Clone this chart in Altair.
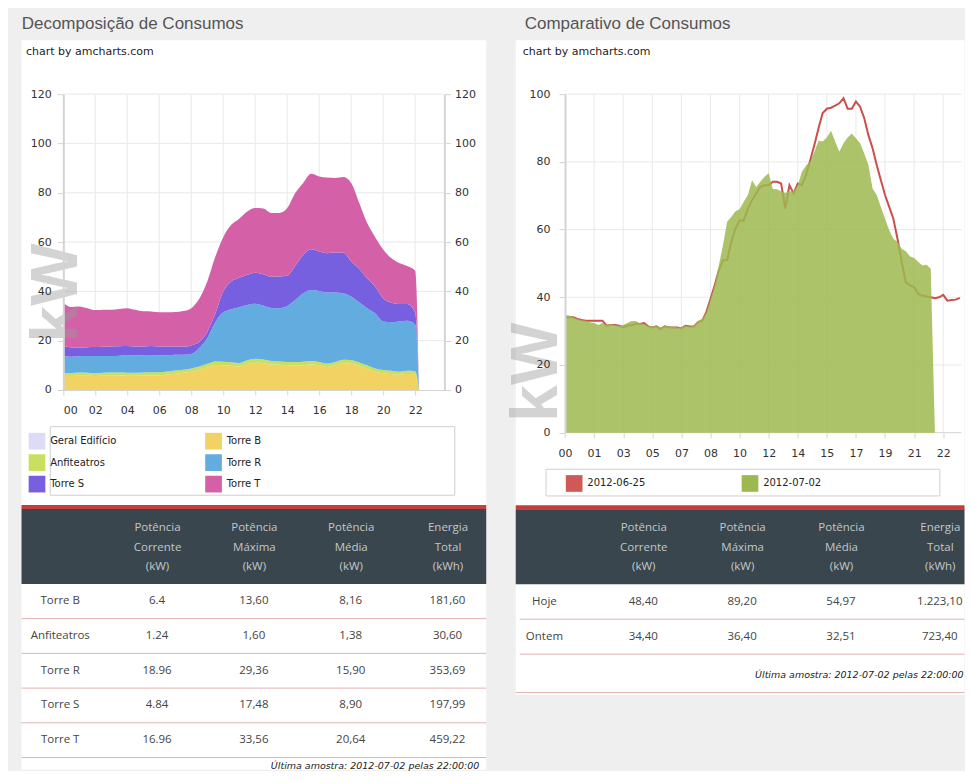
import altair as alt
import pandas as pd

# ---------------- Left panel: "Decomposição de Consumos" (stacked areas, kW) ----------------
series_left = ["Geral Edifício", "Torre B", "Anfiteatros", "Torre R", "Torre S", "Torre T"]
colors_left = ["#dcdcf6", "#f1d263", "#c8df60", "#62ace0", "#7660e0", "#d461a8"]

hours_left = [0.0, 0.5, 1.0, 1.5, 2.0, 2.5, 3.0, 3.5, 4.0, 4.5, 5.0, 5.5, 6.0, 6.5, 7.0, 7.5,
              8.0, 8.5, 9.0, 9.5, 10.0, 10.5, 11.0, 11.5, 12.0, 12.5, 13.0, 13.5, 14.0, 14.5,
              15.0, 15.5, 16.0, 16.5, 17.0, 17.5, 18.0, 18.5, 19.0, 19.5, 20.0, 20.5, 21.0,
              21.5, 22.0, 22.25]
torre_b = [5.8, 5.7, 5.8, 5.8, 5.7, 5.8, 5.8, 5.9, 5.8, 5.8, 5.9, 5.9, 6.0, 6.3, 6.6, 7.0,
           7.4, 8.1, 9.1, 10.1, 10.0, 9.8, 9.5, 10.5, 11.1, 10.9, 10.3, 10.2, 10.0, 10.0,
           10.0, 10.3, 10.0, 9.3, 10.0, 10.8, 10.6, 9.8, 8.6, 7.4, 6.8, 6.5, 6.2,
           6.5, 6.4, 0.0]
anfiteatros = [1.2, 1.2, 1.3, 1.2, 1.2, 1.2, 1.3, 1.2, 1.2, 1.2, 1.2, 1.3, 1.2, 1.2, 1.3, 1.2,
               1.3, 1.4, 1.5, 1.5, 1.5, 1.5, 1.5, 1.6, 1.6, 1.5, 1.5, 1.4, 1.4, 1.4,
               1.5, 1.5, 1.4, 1.4, 1.4, 1.5, 1.5, 1.4, 1.4, 1.3, 1.3, 1.3, 1.2,
               1.3, 1.24, 0.0]
torre_r = [6.8, 6.6, 6.6, 6.8, 6.9, 6.8, 6.7, 6.8, 7.0, 7.0, 7.0, 7.0, 6.8, 6.6, 6.4, 6.1,
           5.9, 7.5, 10.4, 15.9, 20.0, 21.5, 22.6, 22.4, 22.3, 21.9, 21.5, 21.6, 22.7, 25.1,
           27.7, 28.8, 28.8, 28.8, 28.1, 26.9, 25.8, 24.4, 23.2, 22.4, 19.7, 19.7, 20.4,
           20.3, 18.96, 0.0]
torre_s = [4.1, 3.7, 3.4, 3.5, 3.6, 3.7, 3.8, 3.8, 3.8, 3.6, 3.5, 3.6, 3.6, 3.5, 3.3, 3.3,
           3.5, 2.6, 2.5, 3.5, 8.5, 11.2, 11.9, 12.2, 12.6, 12.7, 12.7, 12.8, 12.3, 13.9,
           15.6, 16.5, 16.0, 16.0, 16.3, 16.6, 14.2, 13.6, 12.1, 10.8, 9.4, 7.9, 7.1,
           6.8, 4.84, 0.0]
torre_t = [17.3, 16.5, 16.8, 15.9, 15.0, 15.0, 15.0, 15.2, 15.4, 14.9, 14.3, 14.0, 13.9, 13.9, 14.0, 14.4,
           15.1, 17.4, 20.5, 23.0, 22.0, 23.0, 24.0, 25.7, 26.2, 26.6, 25.8, 25.8, 27.4, 29.5,
           29.2, 30.6, 30.4, 30.7, 30.2, 30.6, 31.9, 26.8, 22.4, 20.1, 19.8, 18.1, 16.6,
           15.4, 16.96, 0.0]
xticks_left = [0, 2, 4, 6, 8, 10, 12, 14, 16, 18, 20, 22]
yticks_left = [0, 20, 40, 60, 80, 100, 120]

# ---------------- Right panel: "Comparativo de Consumos" (15-minute samples) ----------------
series_right = ["2012-06-25", "2012-07-02"]
colors_right = ["#cf5a55", "#9db84f"]
day_0625 = [33.8, 34.1, 34.1, 33.6, 33.3, 33.1, 33.1, 33.1, 33.1, 33.1,
            31.6, 31.8, 31.8, 31.6, 31.1, 31.6, 31.8, 32.1, 32.1, 32.4,
            31.4, 31.1, 31.4, 30.6, 31.4, 31.1, 31.1, 31.1, 30.8, 31.6,
            31.4, 31.4, 32.6, 33.1, 35.6, 39.5, 43.5, 47.9, 50.9, 50.9,
            56.3, 60.3, 62.7, 62.7, 66.2, 68.7, 70.7, 72.6, 73.1, 73.1,
            74.1, 74.1, 73.6, 66.2, 73.1, 70.7, 73.6, 73.1, 76.1, 80.5,
            85.0, 89.9, 94.4, 95.7, 96.0, 96.6, 97.3, 98.8, 95.7, 95.7,
            97.8, 96.3, 92.9, 87.9, 84.0, 79.1, 74.6, 70.2, 66.7, 63.2,
            57.3, 50.4, 44.5, 43.5, 43.0, 41.0, 40.5, 40.2, 40.0, 39.7,
            40.0, 40.7, 39.0, 39.2, 39.3, 39.8]
day_0702 = [34.8, 34.6, 34.1, 33.6, 33.3, 33.1, 32.6, 32.4, 31.8, 32.4,
            31.8, 32.1, 31.8, 31.6, 31.8, 32.4, 33.0, 33.0, 32.4, 32.1,
            31.6, 31.4, 31.6, 31.1, 31.6, 31.4, 31.4, 31.1, 31.1, 31.6,
            31.4, 31.6, 33.1, 33.6, 35.6, 39.5, 43.5, 49.4, 55.3, 62.3,
            63.7, 65.4, 66.0, 68.2, 70.2, 74.6, 72.6, 74.1, 75.6, 76.6,
            72.0, 71.9, 71.3, 70.9, 71.3, 71.3, 73.1, 77.1, 78.9, 80.2,
            83.0, 86.2, 86.0, 87.2, 89.2, 86.0, 83.0, 85.5, 87.2, 88.4,
            87.0, 85.5, 82.5, 79.1, 72.1, 70.2, 66.7, 63.2, 59.8, 57.3,
            56.3, 54.3, 53.6, 52.1, 51.6, 50.4, 49.4, 49.6, 48.4, 0.0]
quarter_hours = [q / 4 for q in range(96)]          # sample time stamps (hours)
xticks_right = [0, 1.75, 3.5, 5.25, 7, 8.75, 10.5, 12.25, 14, 15.75, 17.5, 19.25, 21, 22.75]
yticks_right = [0, 20, 40, 60, 80, 100]

# ---------------- Tables ----------------
table_cols = [" ", "Potência|Corrente|(kW)", "Potência|Máxima|(kW)", "Potência|Média|(kW)", "Energia|Total|(kWh)"]
rows_left = ["Torre B", "Anfiteatros", "Torre R", "Torre S", "Torre T"]
vals_left = [["6.4", "13,60", "8,16", "181,60"],
             ["1.24", "1,60", "1,38", "30,60"],
             ["18.96", "29,36", "15,90", "353,69"],
             ["4.84", "17,48", "8,90", "197,99"],
             ["16.96", "33,56", "20,64", "459,22"]]
rows_right = ["Hoje", "Ontem"]
vals_right = [["48,40", "89,20", "54,97", "1.223,10"],
              ["34,40", "36,40", "32,51", "723,40"]]
footnote = "Última amostra: 2012-07-02 pelas 22:00:00"

# ---------------- styling ----------------
GRID = "#e9e9e9"
AXIS = "#d4d4d4"
LBL = "#333333"
AXFONT = "DejaVu Sans"
one = pd.DataFrame({"d": [0]})


def deco_rect(x, x2, y, y2, **kw):
    return alt.Chart(one).mark_rect(**kw).encode(
        x=alt.value(x), x2=alt.value(x2), y=alt.value(y), y2=alt.value(y2))


def deco_rule(x, x2, y, **kw):
    return alt.Chart(one).mark_rule(**kw).encode(
        x=alt.value(x), x2=alt.value(x2), y=alt.value(y))


def deco_text(txt, x, y, **kw):
    return alt.Chart(pd.DataFrame({"t": [txt]})).mark_text(**kw).encode(
        x=alt.value(x), y=alt.value(y), text="t:N")


def legend(x, y, colpad):
    return alt.Legend(title=None, orient="none", legendX=x, legendY=y, columns=2,
                      direction="horizontal",
                      columnPadding=colpad, rowPadding=4.5, symbolType="square",
                      symbolSize=279, symbolStrokeWidth=0, symbolOpacity=1,
                      labelFont=AXFONT, labelFontSize=10, labelColor="#222222",
                      labelOffset=4.65, labelLimit=300, padding=0)


KW = dict(angle=270, font="Liberation Sans", fontSize=66, fontWeight="bold",
          color="#999999", opacity=0.42, align="center", baseline="middle")

# ---------------- left area chart ----------------
WL, HL = 381.3, 296
xs_l = alt.Scale(domain=[0, 23.83], nice=False, zero=False)
ys_l = alt.Scale(domain=[0, 120], nice=False)

recs = []
for k, (name, vals) in enumerate(zip(series_left[1:], [torre_b, anfiteatros, torre_r, torre_s, torre_t]), start=1):
    for h, v in zip(hours_left, vals):
        recs.append({"h": h, "v": v, "s": name, "k": k})
df_left = pd.DataFrame(recs)

vgrid_l = alt.Chart(pd.DataFrame({"g": xticks_left[1:]})).mark_rule(color=GRID).encode(
    x=alt.X("g:Q", scale=xs_l, axis=None))
hgrid_l = alt.Chart(pd.DataFrame({"g": yticks_left[1:]})).mark_rule(color=GRID).encode(
    y=alt.Y("g:Q", scale=ys_l, axis=alt.Axis(
        orient="right", values=yticks_left, title=None, grid=False, domainColor=AXIS, domainWidth=2,
        tickColor=AXIS, tickSize=6, labelPadding=4, labelFont=AXFONT, labelFontSize=11,
        labelColor=LBL, zindex=1)))
areas_l = alt.Chart(df_left).mark_area(interpolate="monotone").encode(
    x=alt.X("h:Q", scale=xs_l, axis=alt.Axis(
        values=xticks_left, labelExpr="format(datum.value, '02d')", title=None, grid=False,
        domainColor=AXIS, tickColor=AXIS, tickSize=5, labelPadding=10, labelFont=AXFONT,
        labelFontSize=11, labelColor=LBL, zindex=1)),
    y=alt.Y("v:Q", stack="zero", scale=ys_l, axis=alt.Axis(
        orient="left", values=yticks_left, title=None, grid=False, domainColor=AXIS, domainWidth=2,
        tickColor=AXIS, tickSize=6, labelPadding=6, labelFont=AXFONT, labelFontSize=11,
        labelColor=LBL, zindex=1)),
    color=alt.Color("s:N", scale=alt.Scale(domain=series_left, range=colors_left),
                    legend=legend(7.0, 338.65, 88.65)),
    order=alt.Order("k:Q"))

area_left = alt.layer(
    deco_rect(-41.85, 423.15, -86, -54, opacity=0),                   # layout anchor
    deco_rect(-41.85, 423.15, -54, 676, color="white"),                # card
    deco_rect(-13.05, 391.65, 332.7, 401.3, fill="white", stroke="#cfcfcf", strokeWidth=1),
    vgrid_l, hgrid_l, areas_l,
    deco_text("kW", -5.85, 199, **KW),
    deco_text("Decomposição de Consumos", -41.65, -65, font="Liberation Sans", fontSize=17,
              color="#555555", align="left", baseline="alphabetic"),
    deco_text("chart by amcharts.com", -37.35, -42, font=AXFONT, fontSize=11, color="#222222",
              align="left", baseline="middle"),
).resolve_axis(x="independent", y="independent").properties(width=WL, height=HL)

# ---------------- right area chart ----------------
WR, HR = 442, 338.7
xs_r = alt.Scale(domain=[-2.724, 23.85], nice=False, zero=False)
ys_r = alt.Scale(domain=[0, 100], nice=False)

df_red = pd.DataFrame({"h": quarter_hours, "v": day_0625, "s": series_right[0]})
df_green = pd.DataFrame({"h": quarter_hours[:len(day_0702)], "v": day_0702, "s": series_right[1]})

vgrid_r = alt.Chart(pd.DataFrame({"g": xticks_right[1:]})).mark_rule(color=GRID).encode(
    x=alt.X("g:Q", scale=xs_r, axis=None))
hgrid_r = alt.Chart(pd.DataFrame({"g": yticks_right[1:]})).mark_rule(color=GRID).encode(
    y=alt.Y("g:Q", scale=ys_r, axis=None),
    x=alt.XDatum(0, type="quantitative", scale=xs_r, axis=None), x2=alt.X2Datum(23.85))
zero_r = alt.Chart(pd.DataFrame({"g": [0]})).mark_rule(color=AXIS).encode(
    y=alt.Y("g:Q", scale=ys_r, axis=None),
    x=alt.XDatum(0, type="quantitative", scale=xs_r, axis=None), x2=alt.X2Datum(23.85))
line_r = alt.Chart(df_red).mark_line(color="#c9504b", strokeWidth=2).encode(
    x=alt.X("h:Q", scale=xs_r, axis=None), y=alt.Y("v:Q", scale=ys_r, axis=None))
area_r = alt.Chart(df_green).mark_area(opacity=0.85).encode(
    x=alt.X("h:Q", scale=xs_r, axis=alt.Axis(
        values=xticks_right, labelExpr="format(floor(datum.value), '02d')", title=None, grid=False,
        domain=False, tickColor=AXIS, tickSize=5, labelPadding=10, labelFont=AXFONT,
        labelFontSize=11, labelColor=LBL, zindex=1)),
    y=alt.Y("v:Q", scale=ys_r, axis=alt.Axis(
        orient="left", offset=-45.3, values=yticks_right, title=None, grid=False,
        domainColor=AXIS, domainWidth=2, tickColor=AXIS, tickSize=6, labelPadding=9,
        labelFont=AXFONT, labelFontSize=11, labelColor=LBL, zindex=1)),
    color=alt.Color("s:N", scale=alt.Scale(domain=series_right, range=colors_right),
                    legend=legend(45.95, 380.95, 95.95)))

area_right = alt.layer(
    deco_rect(-30, 445, -86, -54, opacity=0),                          # layout anchor
    deco_rect(-4, 445, -54, 601, color="white"),                       # card
    deco_rule(-4, 445, 598.7, color="#e2b3b3"),
    deco_rect(26.3, 420.3, 375.3, 402, fill="white", stroke="#cfcfcf", strokeWidth=1),
    vgrid_r, hgrid_r, zero_r, line_r, area_r,
    deco_text("kW", 17, 278.2, **KW),
    deco_text("Comparativo de Consumos", 5, -65, font="Liberation Sans", fontSize=17,
              color="#555555", align="left", baseline="alphabetic"),
    deco_text("chart by amcharts.com", 3, -42, font=AXFONT, fontSize=11, color="#222222",
              align="left", baseline="middle"),
).resolve_axis(x="independent", y="independent").properties(width=WR, height=HR)


# ---------------- tables ----------------
def table(rows, vals, width, row_h, pad, x_left, foot_offset, foot_dx):
    cells = []
    for r, vs in zip(rows, vals):
        cells.append({"row": r, "col": table_cols[0], "txt": r})
        for c, v in zip(table_cols[1:], vs):
            cells.append({"row": r, "col": c, "txt": v})
    df = pd.DataFrame(cells)
    ys = alt.Scale(type="band", domain=rows, paddingInner=0, paddingOuter=0)
    xs = alt.Scale(type="point", domain=table_cols, padding=pad)
    seps = alt.Chart(pd.DataFrame({"row": rows})).mark_rule(color="#e2b3b3", strokeWidth=1).encode(
        y=alt.Y("row:N", scale=ys, bandPosition=1, axis=None))
    txt = alt.Chart(df).mark_text(font="Open Sans", fontSize=11.5, color="#444444").encode(
        x=alt.X("col:N", scale=xs, axis=alt.Axis(
            orient="top", title=None, labelExpr="split(datum.label, '|')", labelAngle=0,
            labelBaseline="middle", labelAlign="center", labelPadding=56.3, ticks=False, tickSize=0,
            domain=False, grid=False, labelFont="Open Sans", labelFontSize=11.5,
            labelColor="#c3c7ca", labelLineHeight=19.5, zindex=1)),
        y=alt.Y("row:N", scale=ys, axis=None),
        text="txt:N")
    return alt.layer(
        deco_rect(x_left, width, -79, -75, color="#c43c3c"),
        deco_rect(x_left, width, -75, 0, color="#3a464d"),
        seps, txt,
    ).properties(
        width=width, height=row_h * len(rows),
        title=alt.TitleParams(footnote, orient="bottom", anchor="end", frame="group",
                              font=AXFONT, fontStyle="italic", fontSize=9.5, fontWeight="normal",
                              color="#222222", offset=foot_offset, dx=foot_dx))


table_left = table(rows_left, vals_left, 465, 34.75, 0.4, 0, 3, -7)
table_right = table(rows_right, vals_right, 445, 35, 0.25, -4, 15.3, -1)

left_col = alt.vconcat(area_left, table_left, spacing=194, center=True, bounds="flush")
right_col = alt.vconcat(area_right, table_right, spacing=151.3, bounds="flush")

chart = alt.hconcat(left_col, right_col, spacing=2.5).resolve_scale(
    color="independent").resolve_legend(color="independent").properties(
    padding={"left": 12.5, "top": 0, "right": 0, "bottom": 0},
    background="#efefef",
).configure_view(stroke=None)

chart.save("out.html", embed_options={"renderer": "svg", "actions": False})
